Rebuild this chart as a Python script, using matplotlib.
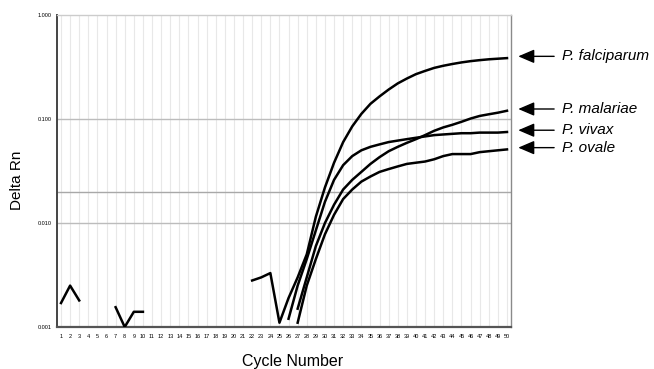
import numpy as np
import matplotlib
matplotlib.use('Agg')
import matplotlib.pyplot as plt

plt.rcParams['font.family'] = ['Liberation Sans', 'DejaVu Sans']

nan = np.nan
cycles = np.arange(1, 51)

# Delta Rn per cycle (None = not plotted / below scale)
falciparum = [None] * 21 + [
    0.0028, 0.0030, 0.0033, 0.0011, 0.0019, 0.0030, 0.0050, 0.0115, 0.022,
    0.038, 0.060, 0.085, 0.112, 0.140, 0.165, 0.192, 0.220, 0.245, 0.270,
    0.290, 0.310, 0.325, 0.338, 0.350, 0.360, 0.368, 0.375, 0.380, 0.385]
vivax = [None] * 25 + [
    0.0012, 0.0025, 0.0045, 0.0085, 0.016, 0.026, 0.036, 0.044, 0.050, 0.054,
    0.057, 0.060, 0.062, 0.064, 0.066, 0.068, 0.070, 0.071, 0.072, 0.073,
    0.073, 0.074, 0.074, 0.074, 0.075]
malariae = [None] * 6 + [0.00155, 0.0010, 0.0014, 0.0014] + [None] * 16 + [
    0.0015, 0.0030, 0.0060, 0.0100, 0.015, 0.021, 0.026, 0.031, 0.037, 0.043,
    0.049, 0.054, 0.059, 0.064, 0.070, 0.077, 0.083, 0.088, 0.094, 0.101,
    0.107, 0.111, 0.115, 0.120]
ovale = [0.0017, 0.0025, 0.0018] + [None] * 23 + [
    0.0011, 0.0025, 0.0045, 0.0078, 0.012, 0.017, 0.021, 0.025, 0.028, 0.031,
    0.033, 0.035, 0.037, 0.038, 0.039, 0.041, 0.044, 0.046, 0.046, 0.046,
    0.048, 0.049, 0.050, 0.051]

species = ['P. falciparum', 'P. malariae', 'P. vivax', 'P. ovale']
series = [falciparum, malariae, vivax, ovale]
threshold = 0.02
ytick_vals = [0.001, 0.01, 0.1, 1.0]
ytick_labels = ['0.001', '0.010', '0.100', '1.000']

fig = plt.figure(figsize=(6.54, 3.69), dpi=100)
ax = fig.add_axes([57 / 654, 1 - 327 / 369, 454 / 654, 312 / 369])

for v in cycles:
    ax.axvline(v, color='#e8e8e8', lw=0.8, zorder=0)
for v in [0.1, 0.01]:
    ax.axhline(v, color='#bcbcbc', lw=1.0, zorder=1)
ax.axhline(threshold, color='#a8a8a8', lw=1.0, zorder=1)

for s in series:
    y = np.array([nan if v is None else v for v in s], dtype=float)
    ax.plot(cycles, y, color='black', lw=1.8, zorder=3, clip_on=True)

ax.set_yscale('log')
ax.set_ylim(0.001, 1.0)
ax.set_xlim(0.56, 50.44)
ax.set_xticks(cycles)
ax.set_xticklabels([str(c) for c in cycles], fontsize=4)
ax.set_yticks(ytick_vals)
ax.set_yticklabels(ytick_labels, fontsize=4)
ax.yaxis.set_minor_locator(matplotlib.ticker.NullLocator())
ax.tick_params(axis='both', length=0)
ax.tick_params(axis='x', pad=5)
ax.tick_params(axis='y', pad=4)

ax.spines['left'].set_color('#444444')
ax.spines['left'].set_linewidth(1.4)
ax.spines['bottom'].set_color('#555555')
ax.spines['bottom'].set_linewidth(1.6)
ax.spines['right'].set_color('#8a8a8a')
ax.spines['right'].set_linewidth(1.0)
ax.spines['top'].set_color('#cccccc')
ax.spines['top'].set_linewidth(1.0)

ax.set_xlabel('Cycle Number', fontsize=11.5)
ax.xaxis.set_label_coords(0.519, -0.088)
ax.set_ylabel('Delta Rn', fontsize=11)
ax.yaxis.set_label_coords(-0.072, 0.47)

for name, s in zip(species, series):
    yend = s[-1] * 1.04
    ax.annotate('', xy=(1.016, yend), xytext=(1.095, yend),
                xycoords=('axes fraction', 'data'),
                textcoords=('axes fraction', 'data'),
                arrowprops=dict(arrowstyle='-|>,head_length=0.7,head_width=0.3',
                                color='black', lw=1.0,
                                mutation_scale=14, shrinkA=0, shrinkB=0))
    ax.text(1.112, yend, name, transform=ax.get_yaxis_transform(),
            fontsize=11, fontstyle='italic', va='center', ha='left')

fig.savefig('out.png', dpi=100)
